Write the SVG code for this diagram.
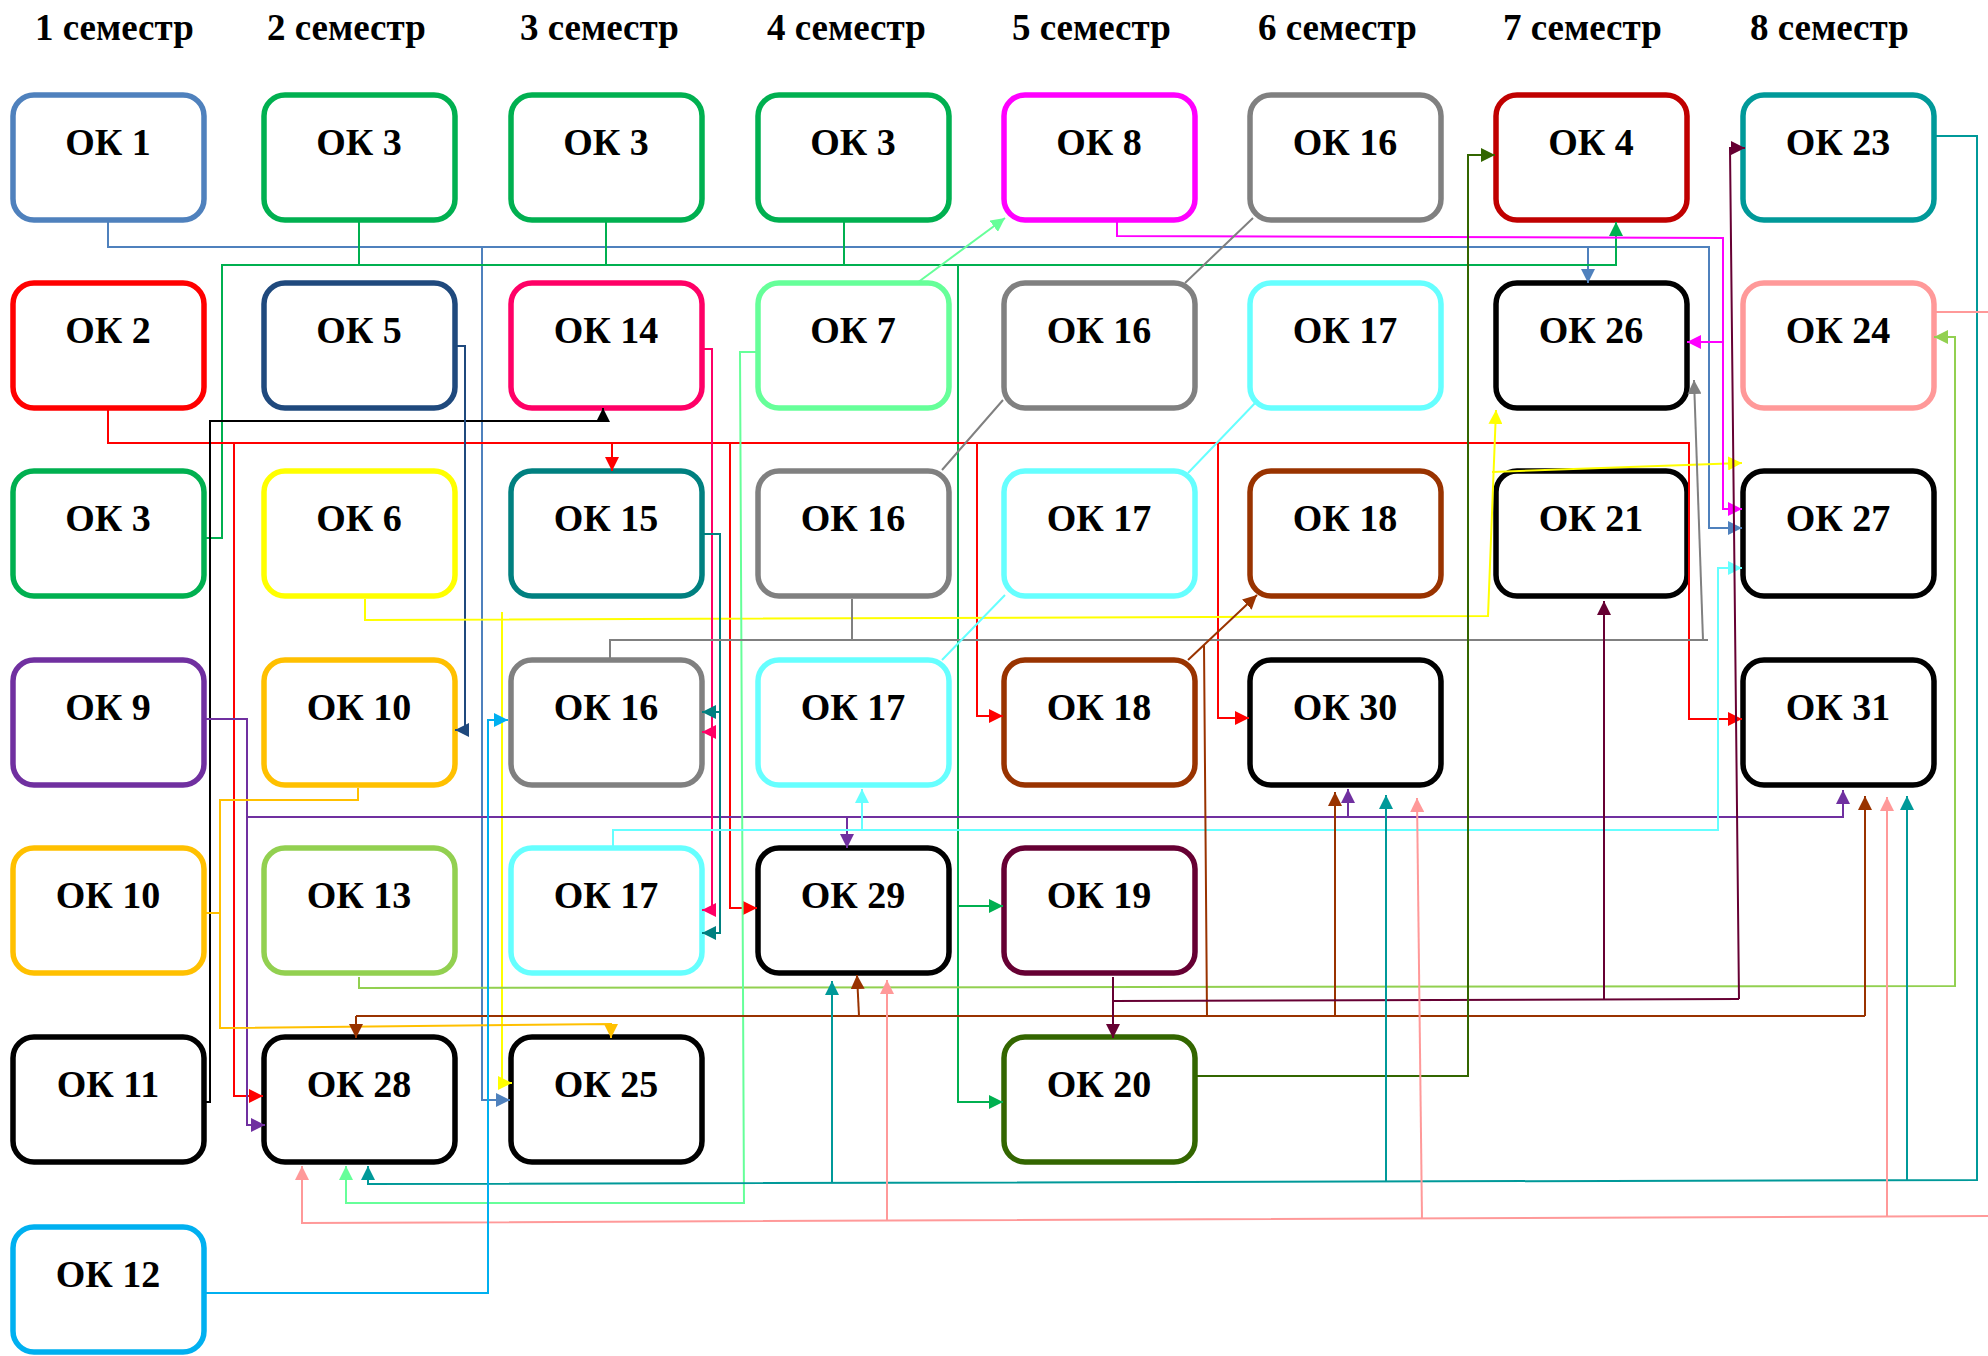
<svg xmlns="http://www.w3.org/2000/svg" width="1988" height="1356" viewBox="0 0 1988 1356">
<style>
.hd{font-family:"Liberation Serif","Times New Roman",serif;font-weight:bold;font-size:37px;fill:#000}
.lb{font-family:"Liberation Serif","Times New Roman",serif;font-weight:bold;font-size:38px;fill:#000;text-anchor:middle}
.bx{fill:#fff;stroke-width:5.5}
.c{fill:none;stroke-width:2}
</style>
<defs>
<marker id="a-blue" markerUnits="userSpaceOnUse" markerWidth="14" markerHeight="14" refX="14" refY="7" orient="auto"><path d="M0,0L14,7L0,14z" fill="#4F81BD"/></marker>
<marker id="a-green" markerUnits="userSpaceOnUse" markerWidth="14" markerHeight="14" refX="14" refY="7" orient="auto"><path d="M0,0L14,7L0,14z" fill="#00B050"/></marker>
<marker id="a-red" markerUnits="userSpaceOnUse" markerWidth="14" markerHeight="14" refX="14" refY="7" orient="auto"><path d="M0,0L14,7L0,14z" fill="#FF0000"/></marker>
<marker id="a-black" markerUnits="userSpaceOnUse" markerWidth="14" markerHeight="14" refX="14" refY="7" orient="auto"><path d="M0,0L14,7L0,14z" fill="#000"/></marker>
<marker id="a-navy" markerUnits="userSpaceOnUse" markerWidth="14" markerHeight="14" refX="14" refY="7" orient="auto"><path d="M0,0L14,7L0,14z" fill="#1F497D"/></marker>
<marker id="a-yellow" markerUnits="userSpaceOnUse" markerWidth="14" markerHeight="14" refX="14" refY="7" orient="auto"><path d="M0,0L14,7L0,14z" fill="#FFFF00"/></marker>
<marker id="a-purple" markerUnits="userSpaceOnUse" markerWidth="14" markerHeight="14" refX="14" refY="7" orient="auto"><path d="M0,0L14,7L0,14z" fill="#7030A0"/></marker>
<marker id="a-orange" markerUnits="userSpaceOnUse" markerWidth="14" markerHeight="14" refX="14" refY="7" orient="auto"><path d="M0,0L14,7L0,14z" fill="#FFC000"/></marker>
<marker id="a-lgreen" markerUnits="userSpaceOnUse" markerWidth="14" markerHeight="14" refX="14" refY="7" orient="auto"><path d="M0,0L14,7L0,14z" fill="#92D050"/></marker>
<marker id="a-pink" markerUnits="userSpaceOnUse" markerWidth="14" markerHeight="14" refX="14" refY="7" orient="auto"><path d="M0,0L14,7L0,14z" fill="#FF0066"/></marker>
<marker id="a-teal" markerUnits="userSpaceOnUse" markerWidth="14" markerHeight="14" refX="14" refY="7" orient="auto"><path d="M0,0L14,7L0,14z" fill="#008080"/></marker>
<marker id="a-mint" markerUnits="userSpaceOnUse" markerWidth="14" markerHeight="14" refX="14" refY="7" orient="auto"><path d="M0,0L14,7L0,14z" fill="#66FF99"/></marker>
<marker id="a-magenta" markerUnits="userSpaceOnUse" markerWidth="14" markerHeight="14" refX="14" refY="7" orient="auto"><path d="M0,0L14,7L0,14z" fill="#FF00FF"/></marker>
<marker id="a-gray" markerUnits="userSpaceOnUse" markerWidth="14" markerHeight="14" refX="14" refY="7" orient="auto"><path d="M0,0L14,7L0,14z" fill="#808080"/></marker>
<marker id="a-cyan" markerUnits="userSpaceOnUse" markerWidth="14" markerHeight="14" refX="14" refY="7" orient="auto"><path d="M0,0L14,7L0,14z" fill="#66FFFF"/></marker>
<marker id="a-brown" markerUnits="userSpaceOnUse" markerWidth="14" markerHeight="14" refX="14" refY="7" orient="auto"><path d="M0,0L14,7L0,14z" fill="#993300"/></marker>
<marker id="a-maroon" markerUnits="userSpaceOnUse" markerWidth="14" markerHeight="14" refX="14" refY="7" orient="auto"><path d="M0,0L14,7L0,14z" fill="#660033"/></marker>
<marker id="a-dkgreen" markerUnits="userSpaceOnUse" markerWidth="14" markerHeight="14" refX="14" refY="7" orient="auto"><path d="M0,0L14,7L0,14z" fill="#336600"/></marker>
<marker id="a-teal2" markerUnits="userSpaceOnUse" markerWidth="14" markerHeight="14" refX="14" refY="7" orient="auto"><path d="M0,0L14,7L0,14z" fill="#009999"/></marker>
<marker id="a-salmon" markerUnits="userSpaceOnUse" markerWidth="14" markerHeight="14" refX="14" refY="7" orient="auto"><path d="M0,0L14,7L0,14z" fill="#FF9999"/></marker>
<marker id="a-sky" markerUnits="userSpaceOnUse" markerWidth="14" markerHeight="14" refX="14" refY="7" orient="auto"><path d="M0,0L14,7L0,14z" fill="#00B0F0"/></marker>
</defs>
<rect width="1988" height="1356" fill="#fff"/>
<g id="headers">
<text class="hd" x="35" y="40">1 семестр</text>
<text class="hd" x="267" y="40">2 семестр</text>
<text class="hd" x="520" y="40">3 семестр</text>
<text class="hd" x="767" y="40">4 семестр</text>
<text class="hd" x="1012" y="40">5 семестр</text>
<text class="hd" x="1258" y="40">6 семестр</text>
<text class="hd" x="1503" y="40">7 семестр</text>
<text class="hd" x="1750" y="40">8 семестр</text>
</g>
<g id="nodes">
<g id="n-c1r1"><rect class="bx" x="13" y="95" width="191" height="125" rx="21" stroke="#4F81BD"/><text class="lb" x="108" y="155">ОК 1</text></g>
<g id="n-c1r2"><rect class="bx" x="13" y="283" width="191" height="125" rx="21" stroke="#FF0000"/><text class="lb" x="108" y="343">ОК 2</text></g>
<g id="n-c1r3"><rect class="bx" x="13" y="471" width="191" height="125" rx="21" stroke="#00B050"/><text class="lb" x="108" y="531">ОК 3</text></g>
<g id="n-c1r4"><rect class="bx" x="13" y="660" width="191" height="125" rx="21" stroke="#7030A0"/><text class="lb" x="108" y="720">ОК 9</text></g>
<g id="n-c1r5"><rect class="bx" x="13" y="848" width="191" height="125" rx="21" stroke="#FFC000"/><text class="lb" x="108" y="908">ОК 10</text></g>
<g id="n-c1r6"><rect class="bx" x="13" y="1037" width="191" height="125" rx="21" stroke="#000"/><text class="lb" x="108" y="1097">ОК 11</text></g>
<g id="n-c1r7"><rect class="bx" x="13" y="1227" width="191" height="125" rx="21" stroke="#00B0F0"/><text class="lb" x="108" y="1287">ОК 12</text></g>

<g id="n-c2r1"><rect class="bx" x="264" y="95" width="191" height="125" rx="21" stroke="#00B050"/><text class="lb" x="359" y="155">ОК 3</text></g>
<g id="n-c2r2"><rect class="bx" x="264" y="283" width="191" height="125" rx="21" stroke="#1F497D"/><text class="lb" x="359" y="343">ОК 5</text></g>
<g id="n-c2r3"><rect class="bx" x="264" y="471" width="191" height="125" rx="21" stroke="#FFFF00"/><text class="lb" x="359" y="531">ОК 6</text></g>
<g id="n-c2r4"><rect class="bx" x="264" y="660" width="191" height="125" rx="21" stroke="#FFC000"/><text class="lb" x="359" y="720">ОК 10</text></g>
<g id="n-c2r5"><rect class="bx" x="264" y="848" width="191" height="125" rx="21" stroke="#92D050"/><text class="lb" x="359" y="908">ОК 13</text></g>
<g id="n-c2r6"><rect class="bx" x="264" y="1037" width="191" height="125" rx="21" stroke="#000"/><text class="lb" x="359" y="1097">ОК 28</text></g>

<g id="n-c3r1"><rect class="bx" x="511" y="95" width="191" height="125" rx="21" stroke="#00B050"/><text class="lb" x="606" y="155">ОК 3</text></g>
<g id="n-c3r2"><rect class="bx" x="511" y="283" width="191" height="125" rx="21" stroke="#FF0066"/><text class="lb" x="606" y="343">ОК 14</text></g>
<g id="n-c3r3"><rect class="bx" x="511" y="471" width="191" height="125" rx="21" stroke="#008080"/><text class="lb" x="606" y="531">ОК 15</text></g>
<g id="n-c3r4"><rect class="bx" x="511" y="660" width="191" height="125" rx="21" stroke="#808080"/><text class="lb" x="606" y="720">ОК 16</text></g>
<g id="n-c3r5"><rect class="bx" x="511" y="848" width="191" height="125" rx="21" stroke="#66FFFF"/><text class="lb" x="606" y="908">ОК 17</text></g>
<g id="n-c3r6"><rect class="bx" x="511" y="1037" width="191" height="125" rx="21" stroke="#000"/><text class="lb" x="606" y="1097">ОК 25</text></g>

<g id="n-c4r1"><rect class="bx" x="758" y="95" width="191" height="125" rx="21" stroke="#00B050"/><text class="lb" x="853" y="155">ОК 3</text></g>
<g id="n-c4r2"><rect class="bx" x="758" y="283" width="191" height="125" rx="21" stroke="#66FF99"/><text class="lb" x="853" y="343">ОК 7</text></g>
<g id="n-c4r3"><rect class="bx" x="758" y="471" width="191" height="125" rx="21" stroke="#808080"/><text class="lb" x="853" y="531">ОК 16</text></g>
<g id="n-c4r4"><rect class="bx" x="758" y="660" width="191" height="125" rx="21" stroke="#66FFFF"/><text class="lb" x="853" y="720">ОК 17</text></g>
<g id="n-c4r5"><rect class="bx" x="758" y="848" width="191" height="125" rx="21" stroke="#000"/><text class="lb" x="853" y="908">ОК 29</text></g>

<g id="n-c5r1"><rect class="bx" x="1004" y="95" width="191" height="125" rx="21" stroke="#FF00FF"/><text class="lb" x="1099" y="155">ОК 8</text></g>
<g id="n-c5r2"><rect class="bx" x="1004" y="283" width="191" height="125" rx="21" stroke="#808080"/><text class="lb" x="1099" y="343">ОК 16</text></g>
<g id="n-c5r3"><rect class="bx" x="1004" y="471" width="191" height="125" rx="21" stroke="#66FFFF"/><text class="lb" x="1099" y="531">ОК 17</text></g>
<g id="n-c5r4"><rect class="bx" x="1004" y="660" width="191" height="125" rx="21" stroke="#993300"/><text class="lb" x="1099" y="720">ОК 18</text></g>
<g id="n-c5r5"><rect class="bx" x="1004" y="848" width="191" height="125" rx="21" stroke="#660033"/><text class="lb" x="1099" y="908">ОК 19</text></g>
<g id="n-c5r6"><rect class="bx" x="1004" y="1037" width="191" height="125" rx="21" stroke="#336600"/><text class="lb" x="1099" y="1097">ОК 20</text></g>

<g id="n-c6r1"><rect class="bx" x="1250" y="95" width="191" height="125" rx="21" stroke="#808080"/><text class="lb" x="1345" y="155">ОК 16</text></g>
<g id="n-c6r2"><rect class="bx" x="1250" y="283" width="191" height="125" rx="21" stroke="#66FFFF"/><text class="lb" x="1345" y="343">ОК 17</text></g>
<g id="n-c6r3"><rect class="bx" x="1250" y="471" width="191" height="125" rx="21" stroke="#993300"/><text class="lb" x="1345" y="531">ОК 18</text></g>
<g id="n-c6r4"><rect class="bx" x="1250" y="660" width="191" height="125" rx="21" stroke="#000"/><text class="lb" x="1345" y="720">ОК 30</text></g>

<g id="n-c7r1"><rect class="bx" x="1496" y="95" width="191" height="125" rx="21" stroke="#C00000"/><text class="lb" x="1591" y="155">ОК 4</text></g>
<g id="n-c7r2"><rect class="bx" x="1496" y="283" width="191" height="125" rx="21" stroke="#000"/><text class="lb" x="1591" y="343">ОК 26</text></g>
<g id="n-c7r3"><rect class="bx" x="1496" y="471" width="191" height="125" rx="21" stroke="#000"/><text class="lb" x="1591" y="531">ОК 21</text></g>

<g id="n-c8r1"><rect class="bx" x="1743" y="95" width="191" height="125" rx="21" stroke="#009999"/><text class="lb" x="1838" y="155">ОК 23</text></g>
<g id="n-c8r2"><rect class="bx" x="1743" y="283" width="191" height="125" rx="21" stroke="#FF9999"/><text class="lb" x="1838" y="343">ОК 24</text></g>
<g id="n-c8r3"><rect class="bx" x="1743" y="471" width="191" height="125" rx="21" stroke="#000"/><text class="lb" x="1838" y="531">ОК 27</text></g>
<g id="n-c8r4"><rect class="bx" x="1743" y="660" width="191" height="125" rx="21" stroke="#000"/><text class="lb" x="1838" y="720">ОК 31</text></g>
</g>
<g id="connectors">
<g stroke="#4F81BD" class="c">
<path class="c" d="M108,222V247H1588V283" marker-end="url(#a-blue)"/>
<path class="c" d="M1588,247H1709V528H1742" marker-end="url(#a-blue)"/>
<path class="c" d="M482,247V1100H510" marker-end="url(#a-blue)"/>
</g>
<g stroke="#00B050" class="c">
<path class="c" d="M359,222V264M606,222V264M844,222V264"/>
<path class="c" d="M205,538H222V265H1616V222" marker-end="url(#a-green)"/>
<path class="c" d="M958,265V906H1003" marker-end="url(#a-green)"/>
<path class="c" d="M958,906V1102H1003" marker-end="url(#a-green)"/>
</g>
<g stroke="#FF0000" class="c">
<path class="c" d="M108,410V443H1689V719H1742" marker-end="url(#a-red)"/>
<path class="c" d="M612,443V471" marker-end="url(#a-red)"/>
<path class="c" d="M234,443V1096H263" marker-end="url(#a-red)"/>
<path class="c" d="M730,443V908H757" marker-end="url(#a-red)"/>
<path class="c" d="M977,443V716H1003" marker-end="url(#a-red)"/>
<path class="c" d="M1218,443V718H1249" marker-end="url(#a-red)"/>
</g>
<path class="c" stroke="#000" d="M205,1102H210V421H603V408" marker-end="url(#a-black)"/>
<path class="c" stroke="#1F497D" d="M457,346H465V730H455" marker-end="url(#a-navy)"/>
<g stroke="#FFFF00" class="c">
<path class="c" d="M365,599V620L1488,616L1496,410" marker-end="url(#a-yellow)"/>
<path class="c" d="M1492,472L1742,463" marker-end="url(#a-yellow)"/>
<path class="c" d="M502,612V1083H512" marker-end="url(#a-yellow)"/>
</g>
<g stroke="#7030A0" class="c">
<path class="c" d="M205,719H247V1125H265" marker-end="url(#a-purple)"/>
<path class="c" d="M247,817H1843V790" marker-end="url(#a-purple)"/>
<path class="c" d="M847,817V848" marker-end="url(#a-purple)"/>
<path class="c" d="M1348,817V789" marker-end="url(#a-purple)"/>
</g>
<g stroke="#FFC000" class="c">
<path class="c" d="M358,788V800H220V1028L611,1024V1038" marker-end="url(#a-orange)"/>
<path class="c" d="M205,913H220"/>
</g>
<path class="c" stroke="#92D050" d="M359,977V988L1955,986V337H1934" marker-end="url(#a-lgreen)"/>
<g stroke="#FF0066" class="c">
<path class="c" d="M702,349H712V732H702" marker-end="url(#a-pink)"/>
<path class="c" d="M712,732V910H702" marker-end="url(#a-pink)"/>
</g>
<g stroke="#008080" class="c">
<path class="c" d="M702,534H720V712H702" marker-end="url(#a-teal)"/>
<path class="c" d="M720,712V933H702" marker-end="url(#a-teal)"/>
</g>
<g stroke="#66FF99" class="c">
<path class="c" d="M917,283L1005,218" marker-end="url(#a-mint)"/>
<path class="c" d="M757,352H740L744,1203H346V1166" marker-end="url(#a-mint)"/>
</g>
<g stroke="#FF00FF" class="c">
<path class="c" d="M1117,222V236L1723,238V342H1687" marker-end="url(#a-magenta)"/>
<path class="c" d="M1723,342V509H1742" marker-end="url(#a-magenta)"/>
</g>
<g stroke="#808080" class="c">
<path class="c" d="M1253,218L1185,283M1003,400L942,470M852,599V640M610,660V640H1708"/>
<path class="c" d="M1703,640L1694,380" marker-end="url(#a-gray)"/>
</g>
<g stroke="#66FFFF" class="c">
<path class="c" d="M1258,400L1188,473M1005,595L942,660"/>
<path class="c" d="M613,848V830H1718V568H1742" marker-end="url(#a-cyan)"/>
<path class="c" d="M862,830V789" marker-end="url(#a-cyan)"/>
</g>
<g stroke="#993300" class="c">
<path class="c" d="M1188,660L1257,595" marker-end="url(#a-brown)"/>
<path class="c" d="M1204,645L1207,1016M356,1016H1865"/>
<path class="c" d="M356,1016V1038" marker-end="url(#a-brown)"/>
<path class="c" d="M859,1016L857,975" marker-end="url(#a-brown)"/>
<path class="c" d="M1335,1016V792" marker-end="url(#a-brown)"/>
<path class="c" d="M1865,1016V796" marker-end="url(#a-brown)"/>
</g>
<g stroke="#660033" class="c">
<path class="c" d="M1113,977V1038" marker-end="url(#a-maroon)"/>
<path class="c" d="M1113,1001L1739,999"/>
<path class="c" d="M1604,1000V601" marker-end="url(#a-maroon)"/>
<path class="c" d="M1739,999L1730,148H1745" marker-end="url(#a-maroon)"/>
</g>
<path class="c" stroke="#336600" d="M1194,1076H1468V155H1495" marker-end="url(#a-dkgreen)"/>
<g stroke="#009999" class="c">
<path class="c" d="M1933,136H1977V1180L368,1184V1166" marker-end="url(#a-teal2)"/>
<path class="c" d="M832,1183V981" marker-end="url(#a-teal2)"/>
<path class="c" d="M1386,1182V795" marker-end="url(#a-teal2)"/>
<path class="c" d="M1907,1180V796" marker-end="url(#a-teal2)"/>
</g>
<g stroke="#FF9999" class="c">
<path class="c" d="M1933,312H1996V1216L302,1223V1166" marker-end="url(#a-salmon)"/>
<path class="c" d="M887,1220V980" marker-end="url(#a-salmon)"/>
<path class="c" d="M1422,1219L1417,798" marker-end="url(#a-salmon)"/>
<path class="c" d="M1887,1216V797" marker-end="url(#a-salmon)"/>
</g>
<path class="c" stroke="#00B0F0" d="M205,1293H488V720H508" marker-end="url(#a-sky)"/>
</g>
</svg>
